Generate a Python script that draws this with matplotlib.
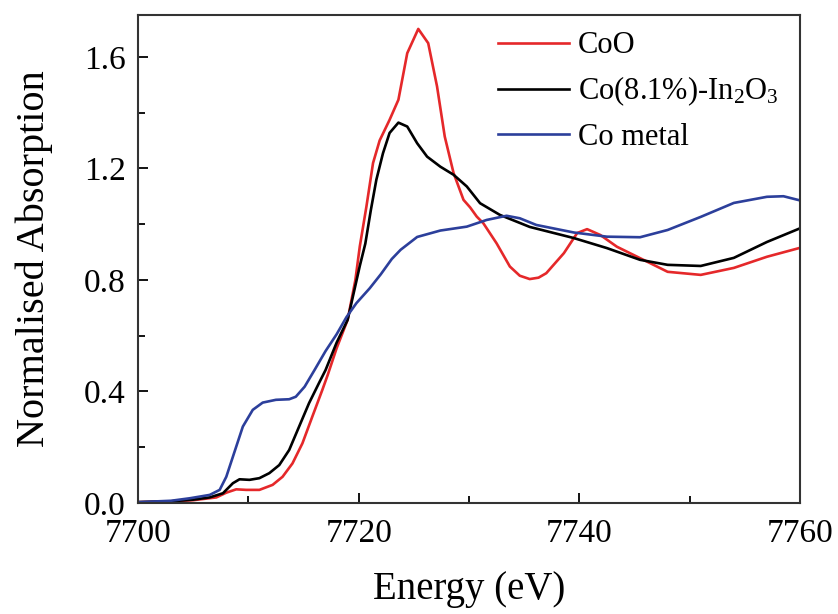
import matplotlib
matplotlib.use("Agg")
import matplotlib.pyplot as plt
from matplotlib.ticker import MultipleLocator

plt.rcParams['font.family'] = ['Liberation Serif', 'DejaVu Serif']
plt.rcParams['mathtext.fontset'] = 'custom'
plt.rcParams['mathtext.rm'] = 'Liberation Serif'
plt.rcParams['mathtext.it'] = 'Liberation Serif:italic'

# CoO
coo_x = [7700, 7703, 7705, 7707.1, 7708.0, 7708.9, 7709.8, 7711.0, 7712.2, 7713.1, 7714.0,
         7714.9, 7715.8, 7716.7, 7717.2, 7718, 7719, 7719.7, 7720.1, 7720.7, 7721.3,
         7721.9, 7722.8, 7723.6, 7724.4, 7725.4, 7726.3, 7727.1, 7727.8, 7728.6, 7729.5,
         7730.1, 7730.7, 7731.3, 7732.5, 7733.7, 7734.6, 7735.5, 7736.3, 7737.0, 7738.6,
         7739.8, 7740.7, 7741.9, 7743.4, 7745.5, 7748, 7751, 7754, 7757, 7760]
coo_y = [0.003, 0.006, 0.01, 0.02, 0.037, 0.049, 0.047, 0.047, 0.065, 0.094, 0.142,
         0.214, 0.31, 0.405, 0.46, 0.555, 0.657, 0.80, 0.92, 1.063, 1.219,
         1.30, 1.374, 1.446, 1.613, 1.70, 1.649, 1.494, 1.314, 1.183, 1.087,
         1.06, 1.027, 1.003, 0.931, 0.848, 0.815, 0.803, 0.808, 0.824, 0.896,
         0.968, 0.982, 0.961, 0.919, 0.878, 0.829, 0.818, 0.843, 0.883, 0.915]

# Co(8.1%)-In2O3
coin_x = [7700, 7703, 7705, 7706.5, 7707.7, 7708.6, 7709.2, 7710.1, 7711.0, 7711.9, 7712.8,
          7713.7, 7714.6, 7715.5, 7716.4, 7717.0, 7718, 7719, 7720.1, 7720.6, 7721.1,
          7721.6, 7722.2, 7722.8, 7723.6, 7724.4, 7725.3, 7726.2, 7727.4, 7728.6, 7729.8,
          7731, 7732.8, 7735.5, 7739.5, 7742.5, 7745.5, 7748, 7751, 7754, 7757, 7760]
coin_y = [0.003, 0.006, 0.012, 0.02, 0.035, 0.071, 0.085, 0.083, 0.089, 0.107, 0.136,
          0.19, 0.274, 0.358, 0.43, 0.477, 0.575, 0.657, 0.85, 0.93, 1.05,
          1.159, 1.254, 1.327, 1.364, 1.35, 1.29, 1.242, 1.206, 1.177, 1.135,
          1.075, 1.033, 0.99, 0.95, 0.914, 0.872, 0.854, 0.85, 0.879, 0.936, 0.985]

# Co metal
com_x = [7700, 7703, 7704.7, 7706.5, 7707.4, 7708.0, 7708.6, 7709.5, 7710.4, 7711.3, 7712.5,
         7713.7, 7714.3, 7715.1, 7716.0, 7717, 7718, 7718.9, 7719.8, 7721, 7722,
         7723, 7723.8, 7725.3, 7727.4, 7729.8, 7731.6, 7733.4, 7734.6, 7736.1, 7739.5,
         7742.5, 7745.5, 7748, 7751, 7754, 7757, 7758.5, 7760]
com_y = [0.003, 0.008, 0.017, 0.029, 0.047, 0.094, 0.166, 0.274, 0.334, 0.36, 0.37,
         0.372, 0.381, 0.417, 0.477, 0.545, 0.605, 0.667, 0.717, 0.77, 0.82,
         0.875, 0.908, 0.954, 0.977, 0.991, 1.015, 1.03, 1.021, 0.997, 0.97,
         0.955, 0.953, 0.979, 1.026, 1.076, 1.098, 1.10, 1.085]

labels = ['CoO', 'Co(8.1%)-In$_{2}$O$_{3}$', 'Co metal']
colors = ['#e5282a', '#000000', '#2c3f9b']
x_ticks = [7700, 7720, 7740, 7760]
y_ticks = [0.0, 0.4, 0.8, 1.2, 1.6]

fig = plt.figure(figsize=(8.38, 6.14), dpi=100)
ax = fig.add_axes([0.1647, 0.1808, 0.79, 0.7948])

for xs, ys, lab, c in zip([coo_x, coin_x, com_x], [coo_y, coin_y, com_y], labels, colors):
    ax.plot(xs, ys, color=c, lw=1.9, label=lab, solid_joinstyle='round')

ax.set_xlim(7700, 7760)
ax.set_ylim(0, 1.75)
ax.set_xticks(x_ticks)
ax.set_xticklabels([str(t) for t in x_ticks])
ax.set_yticks(y_ticks)
ax.set_yticklabels([f"{t:.1f}" for t in y_ticks])
ax.xaxis.set_minor_locator(MultipleLocator(10))
ax.yaxis.set_minor_locator(MultipleLocator(0.2))
ax.tick_params(which='both', direction='in', top=False, right=False, labelsize=24, width=1.3)
ax.tick_params(axis='x', pad=11)
ax.tick_params(axis='y', pad=9)
ax.tick_params(which='major', length=7)
ax.tick_params(which='minor', length=5)
for s in ax.spines.values():
    s.set_linewidth(1.5)
    s.set_color('#333333')

ax.set_xlabel('Energy (eV)', fontsize=28, labelpad=16)
ax.set_ylabel('Normalised Absorption', fontsize=29, labelpad=22)

leg = ax.legend(loc='upper right', bbox_to_anchor=(1.0, 1.01), frameon=False, fontsize=22,
                handlelength=2.3, handletextpad=0.3, labelspacing=0.47, borderaxespad=0.3)

fig.savefig('out.png', dpi=100)
